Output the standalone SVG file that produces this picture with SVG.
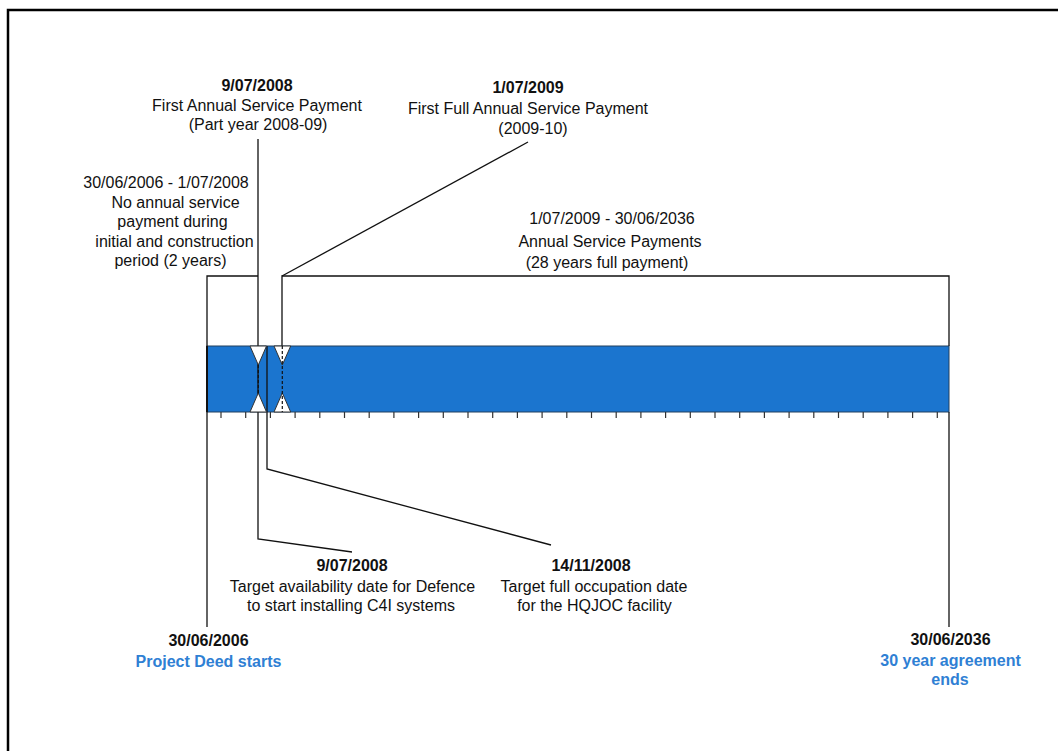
<svg xmlns="http://www.w3.org/2000/svg" width="1058" height="751" viewBox="0 0 1058 751">
<style>
text{font-family:"Liberation Sans",Arial,sans-serif;font-size:16px;fill:#111;text-anchor:middle}
.b{font-weight:bold}
.blue{font-weight:bold;fill:#2F80D4}
.ln{fill:none;stroke:#111;stroke-width:1.3}
.tick{stroke:#333;stroke-width:1.2}
.tri{fill:#fff;stroke:#333;stroke-width:1}
.dash{stroke:#111;stroke-width:1.2;stroke-dasharray:3 2}
</style>
<rect x="0" y="0" width="1058" height="751" fill="#fff"/>
<rect x="8" y="10" width="1100" height="800" fill="none" stroke="#000" stroke-width="2.5"/>

<g id="timeline-bar">
<rect x="207" y="346" width="742" height="66" fill="#1B75CF" stroke="#23405e" stroke-width="1"/>
<line x1="207" y1="346" x2="207" y2="412" stroke="#111" stroke-width="2"/>
<g id="ticks">
<line class="tick" x1="221" y1="412" x2="221" y2="418"/><line class="tick" x1="245.7" y1="412" x2="245.7" y2="418"/><line class="tick" x1="270.4" y1="412" x2="270.4" y2="418"/><line class="tick" x1="295.1" y1="412" x2="295.1" y2="418"/><line class="tick" x1="319.8" y1="412" x2="319.8" y2="418"/><line class="tick" x1="344.5" y1="412" x2="344.5" y2="418"/><line class="tick" x1="369.2" y1="412" x2="369.2" y2="418"/><line class="tick" x1="393.9" y1="412" x2="393.9" y2="418"/><line class="tick" x1="418.6" y1="412" x2="418.6" y2="418"/><line class="tick" x1="443.3" y1="412" x2="443.3" y2="418"/><line class="tick" x1="468" y1="412" x2="468" y2="418"/><line class="tick" x1="492.7" y1="412" x2="492.7" y2="418"/><line class="tick" x1="517.4" y1="412" x2="517.4" y2="418"/><line class="tick" x1="542.1" y1="412" x2="542.1" y2="418"/><line class="tick" x1="566.8" y1="412" x2="566.8" y2="418"/><line class="tick" x1="591.5" y1="412" x2="591.5" y2="418"/><line class="tick" x1="616.2" y1="412" x2="616.2" y2="418"/><line class="tick" x1="640.9" y1="412" x2="640.9" y2="418"/><line class="tick" x1="665.6" y1="412" x2="665.6" y2="418"/><line class="tick" x1="690.3" y1="412" x2="690.3" y2="418"/><line class="tick" x1="715" y1="412" x2="715" y2="418"/><line class="tick" x1="739.7" y1="412" x2="739.7" y2="418"/><line class="tick" x1="764.4" y1="412" x2="764.4" y2="418"/><line class="tick" x1="789.1" y1="412" x2="789.1" y2="418"/><line class="tick" x1="813.8" y1="412" x2="813.8" y2="418"/><line class="tick" x1="838.5" y1="412" x2="838.5" y2="418"/><line class="tick" x1="863.2" y1="412" x2="863.2" y2="418"/><line class="tick" x1="887.9" y1="412" x2="887.9" y2="418"/><line class="tick" x1="912.6" y1="412" x2="912.6" y2="418"/><line class="tick" x1="937.3" y1="412" x2="937.3" y2="418"/>
</g>
</g>

<g id="connectors">
<path class="ln" d="M207 346 V276 H258"/>
<path class="ln" d="M282 346 V276 H949 V346"/>
<path class="ln" d="M282 276 L528 142"/>
<path class="ln" d="M258 139 V539 L352 552"/>
<path class="ln" d="M267 346 V469 L551 545"/>
<path class="ln" d="M207 412 V627"/>
<path class="ln" d="M949 412 V627"/>
</g>

<g id="marker-first-payment">
<polygon class="tri" points="250,346 266.5,346 258.3,365"/>
<polygon class="tri" points="250,412 266.5,412 258.3,393"/>
<line class="dash" x1="258.3" y1="365" x2="258.3" y2="393"/>
</g>
<g id="marker-full-payment">
<polygon class="tri" points="274,346 290.7,346 282.3,365"/>
<polygon class="tri" points="274,412 290.7,412 282.3,393"/>
<line class="dash" x1="282.3" y1="346" x2="282.3" y2="412"/>
</g>

<g id="label-first-annual">
<text class="b" x="257" y="91">9/07/2008</text>
<text x="257" y="111">First Annual Service Payment</text>
<text x="258" y="130">(Part year 2008-09)</text>
</g>
<g id="label-first-full">
<text class="b" x="528" y="93">1/07/2009</text>
<text x="528" y="114">First Full Annual Service Payment</text>
<text x="533" y="134">(2009-10)</text>
</g>
<g id="label-no-payment">
<text x="166" y="188">30/06/2006 - 1/07/2008</text>
<text x="175.5" y="208">No annual service</text>
<text x="172.5" y="227">payment during</text>
<text x="174.5" y="247">initial and construction</text>
<text x="170.5" y="266">period (2 years)</text>
</g>
<g id="label-annual-payments">
<text x="612" y="224">1/07/2009 - 30/06/2036</text>
<text x="610" y="247">Annual Service Payments</text>
<text x="607" y="268">(28 years full payment)</text>
</g>
<g id="label-availability">
<text class="b" x="352" y="571">9/07/2008</text>
<text x="352.5" y="592">Target availability date for Defence</text>
<text x="351" y="611">to start installing C4I systems</text>
</g>
<g id="label-occupation">
<text class="b" x="591" y="571">14/11/2008</text>
<text x="594" y="592">Target full occupation date</text>
<text x="594.5" y="611">for the HQJOC facility</text>
</g>
<g id="label-start">
<text class="b" x="208.5" y="646">30/06/2006</text>
<text class="blue" x="208.5" y="667">Project Deed starts</text>
</g>
<g id="label-end">
<text class="b" x="950.5" y="645">30/06/2036</text>
<text class="blue" x="950.5" y="666">30 year agreement</text>
<text class="blue" x="950" y="685">ends</text>
</g>
</svg>
